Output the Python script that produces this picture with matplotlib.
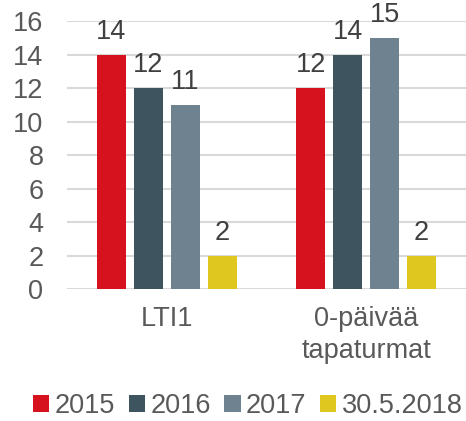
import numpy as np
import matplotlib
matplotlib.use("Agg")
import matplotlib.pyplot as plt

categories = ["LTI1", "0-päivää\ntapaturmat"]
series_names = ["2015", "2016", "2017", "30.5.2018"]
values_2015 = [14, 12]
values_2016 = [12, 14]
values_2017 = [11, 15]
values_2018 = [2, 2]
colors = ["#D7121F", "#3E5560", "#6E838F", "#DFC71F"]

plt.rcParams["font.family"] = ["Liberation Sans", "DejaVu Sans"]
FS = 19.5

fig = plt.figure(figsize=(4.66, 4.21), dpi=100)
ax = fig.add_axes([0.144, 0.3135, 0.856, 0.6365])

x = np.arange(len(categories))
width = 0.145
step = 0.185
all_series = [values_2015, values_2016, values_2017, values_2018]
for i, (vals, name, c) in enumerate(zip(all_series, series_names, colors)):
    offs = (i - 1.5) * step
    bars = ax.bar(x + offs, vals, width, color=c, label=name, zorder=3)
    for b, v in zip(bars, vals):
        ax.annotate(str(v), (b.get_x() + b.get_width() / 2, v),
                    xytext=(0, 7), textcoords="offset points",
                    ha="center", va="bottom", fontsize=FS,
                    color="#404040", annotation_clip=False)

ax.set_xlim(-0.5, 1.5)
ax.set_ylim(0, 16)
ax.set_yticks(np.arange(0, 17, 2))
ax.set_xticks(x)
ax.set_xticklabels(categories, fontsize=FS, color="#595959", linespacing=1.3)
ax.tick_params(axis="y", labelsize=FS, labelcolor="#595959", length=0, pad=17)
ax.tick_params(axis="x", length=0, pad=12)
ax.grid(axis="y", color="#D9D9D9", linewidth=1.5, zorder=0)
for s in ax.spines.values():
    s.set_visible(False)

fig.legend(loc="center", bbox_to_anchor=(0.532, 0.036), ncol=4, frameon=False,
           fontsize=FS, handlelength=0.6, handleheight=0.6,
           handletextpad=0.2, columnspacing=0.5, borderaxespad=0,
           labelcolor="#595959")

fig.savefig("out.png", dpi=100)
